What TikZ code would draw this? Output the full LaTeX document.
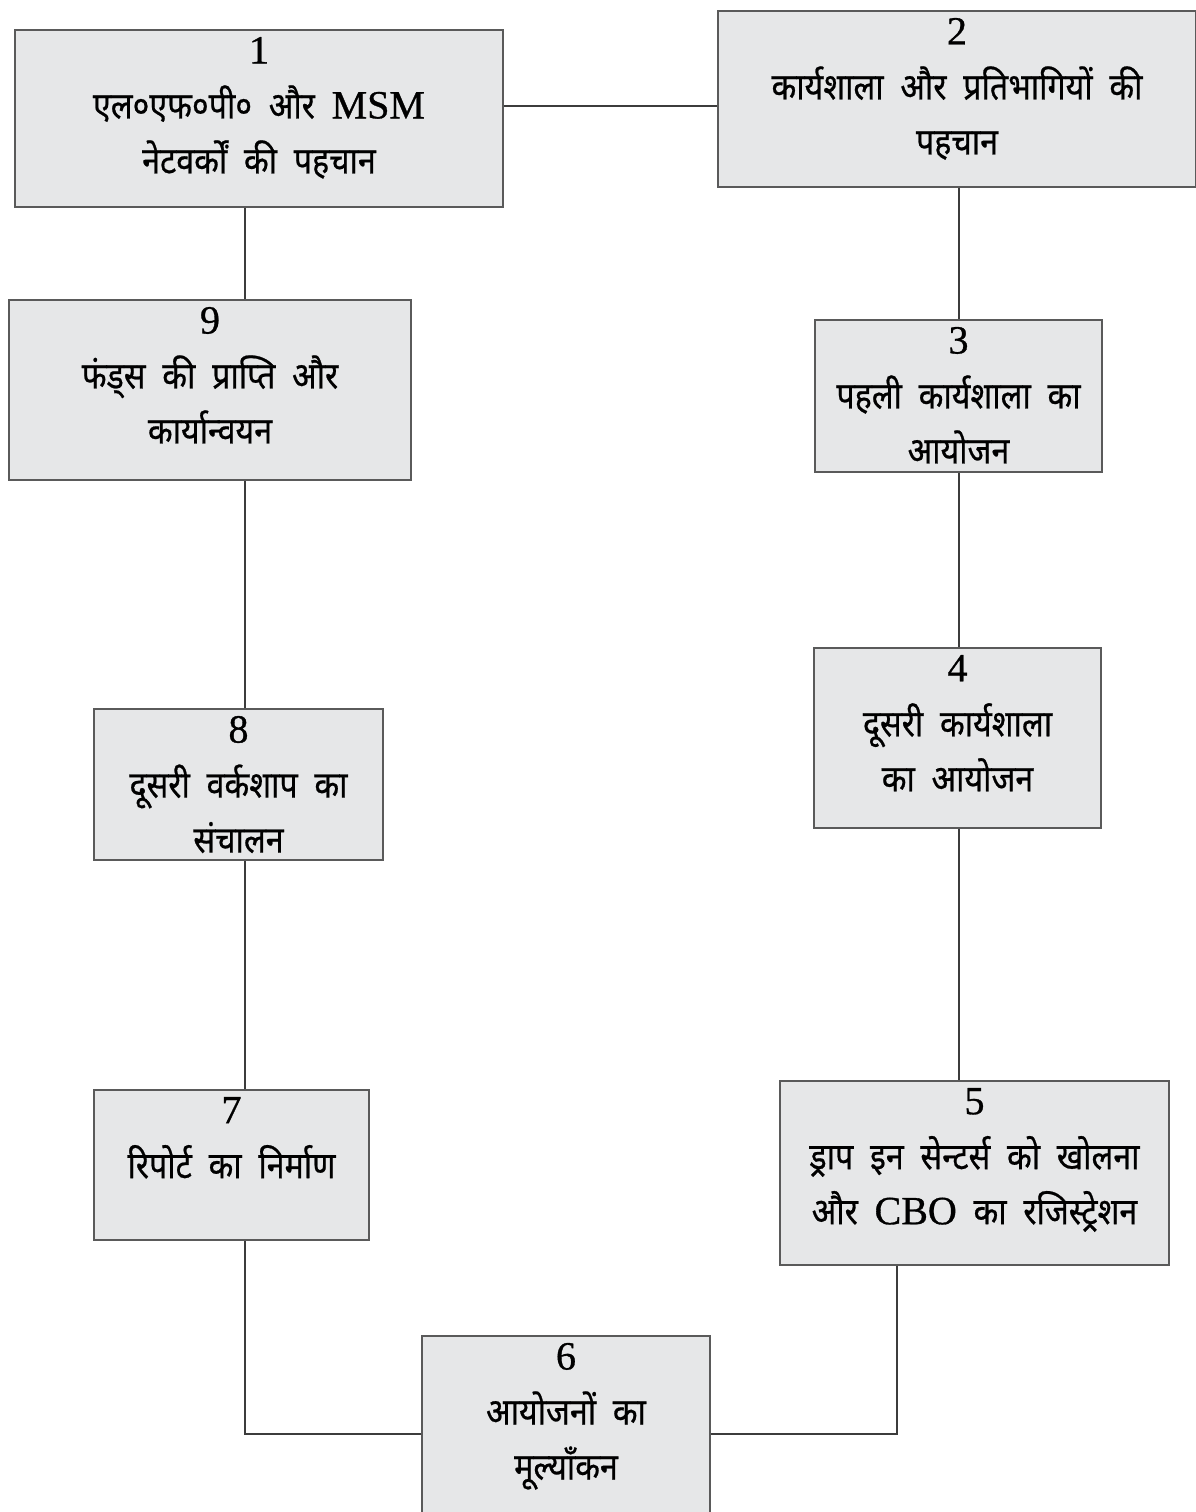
\documentclass[tikz,border=0pt]{standalone}
\usepackage{fontspec}
\setmainfont{Noto Sans}[Script=Devanagari, FakeStretch=0.87, FakeBold=0.6, WordSpace=2.0]
\newfontfamily\numfont{Liberation Serif}[FakeBold=0.8]
\newcommand{\nr}[1]{{\numfont\fontsize{40pt}{55pt}\selectfont #1}}
% top aligned text block of a step box
\newcommand{\boxtext}[3]{\parbox[c][#2][t]{#1}{\centering\vspace*{7pt}#3}}
% name, x, y, width, height, number, text
\newcommand{\stepnode}[7]{
	\node[stepbox] (#1) at (#2,#3) {\boxtext{#4}{#5}{\nr{#6}\\#7}};
	}
\definecolor{boxfill}{HTML}{E6E7E8}
\definecolor{boxline}{HTML}{5A5A5A}
\definecolor{linkline}{HTML}{3C3C3C}

\begin{document}
\begin{tikzpicture}[
      x=1pt, y=-1pt, %pixel grid of the page
      stepbox/.style={draw=boxline, fill=boxfill, line width=1.4pt, inner sep=0pt,
                      font=\fontsize{37pt}{55pt}\selectfont},
      link/.style={draw=linkline, line width=1.1pt}
    ]
    \useasboundingbox (0,0) rectangle (1196,1512);
    % left and right spines of the cycle
    \coordinate (lspine) at (245,0);
    \coordinate (rspine) at (959,0);
    % Draw the steps
    \stepnode{b1}{259}{118.5}{488pt}{177pt}{1}{एल०एफ०पी० और \nr{MSM}\\ नेटवर्कों की पहचान};
    \stepnode{b2}{957}{99}{478pt}{176pt}{2}{कार्यशाला और प्रतिभागियों की\\ पहचान};
    \stepnode{b3}{958.5}{396}{287pt}{152pt}{3}{पहली कार्यशाला का\\ आयोजन};
    \stepnode{b4}{957.5}{738}{287pt}{180pt}{4}{दूसरी कार्यशाला\\ का आयोजन};
    \stepnode{b5}{974.5}{1173}{389pt}{184pt}{5}{ड्राप इन सेन्टर्स को खोलना\\ और \nr{CBO} का रजिस्ट्रेशन};
    \stepnode{b6}{566}{1426}{288pt}{180pt}{6}{आयोजनों का\\ मूल्याँकन};
    \stepnode{b7}{231.5}{1165}{275pt}{150pt}{7}{रिपोर्ट का निर्माण};
    \stepnode{b8}{238.5}{784.5}{289pt}{151pt}{8}{दूसरी वर्कशाप का\\ संचालन};
    \stepnode{b9}{210}{390}{402pt}{180pt}{9}{फंड्स की प्राप्ति और\\ कार्यान्वयन};
    % Draw the links
    \draw[link] ([yshift=12.5pt]b1.east) -- ([yshift=12.5pt]b1.east -| b2.west);
    \draw[link] (b2.south -| rspine) -- (b3.north -| rspine);
    \draw[link] (b3.south -| rspine) -- (b4.north -| rspine);
    \draw[link] (b4.south -| rspine) -- (b5.north -| rspine);
    \draw[link] ([xshift=-77.5pt]b5.south) |- ([yshift=-8pt]b6.east);
    \draw[link] ([yshift=-8pt]b6.west) -| (b7.south -| lspine);
    \draw[link] (b7.north -| lspine) -- (b8.south -| lspine);
    \draw[link] (b8.north -| lspine) -- (b9.south -| lspine);
    \draw[link] (b9.north -| lspine) -- (b1.south -| lspine);
    \end{tikzpicture}
\end{document}
